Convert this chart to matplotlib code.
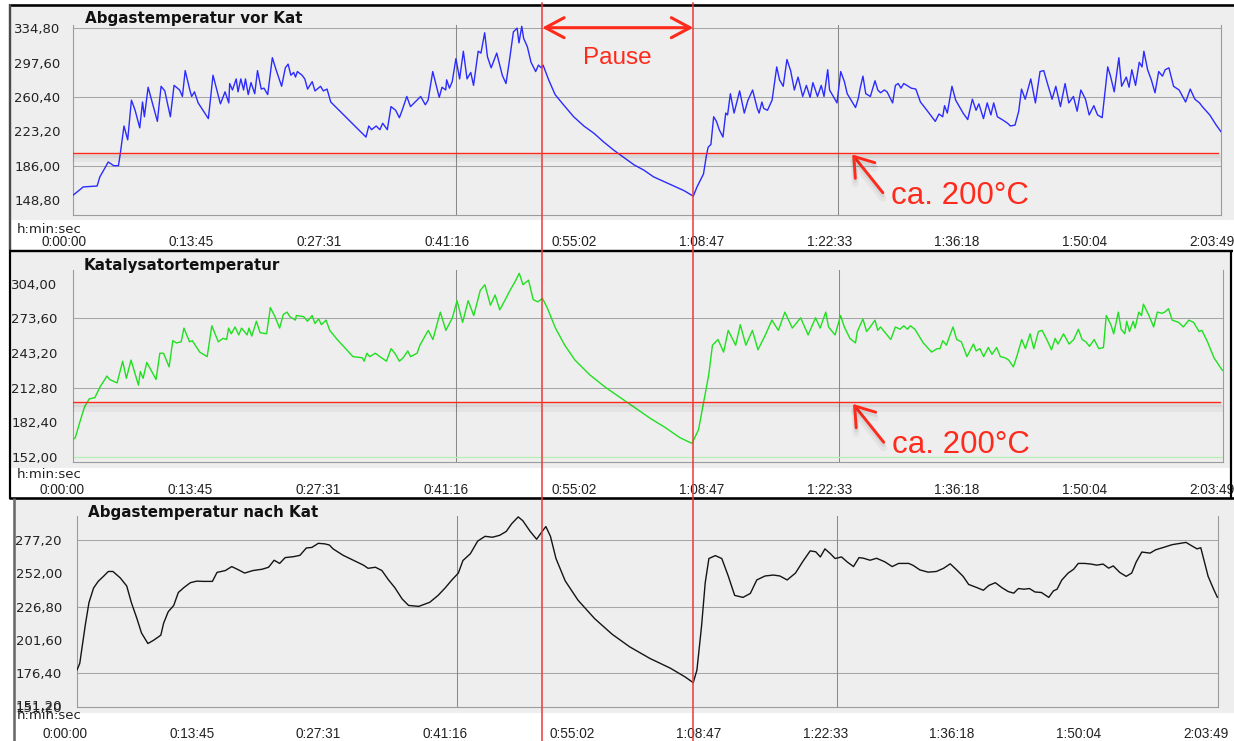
import matplotlib
matplotlib.use("Agg")
import matplotlib.pyplot as plt
import matplotlib.patheffects as pe
from matplotlib.patches import Rectangle, FancyArrowPatch
from matplotlib.lines import Line2D
from matplotlib.transforms import ScaledTranslation, blended_transform_factory

# ---------------------------------------------------------------- data
# time in minutes since start of the log, temperatures in °C

t_vor = [0.0, 0.5, 1.1, 2.6, 2.9, 3.3, 3.8, 4.4, 4.9, 5.1,
         5.5, 5.9, 6.3, 6.7, 7.2, 7.5, 7.7, 8.1, 9.1, 9.5,
         9.9, 10.5, 10.9, 11.5, 11.8, 12.1, 12.6, 12.8, 13.1, 13.5,
         14.6, 15.1, 15.9, 16.2, 16.4, 16.8, 16.9, 17.2, 17.6, 17.8,
         18.1, 18.4, 18.6, 18.9, 19.2, 19.6, 19.9, 20.3, 20.6, 21.0,
         21.5, 21.9, 22.5, 22.9, 23.2, 23.5, 23.8, 24.0, 24.2, 24.7,
         25.0, 25.3, 25.8, 26.1, 26.7, 27.0, 27.4, 27.8, 28.8, 29.9,
         31.0, 31.6, 31.9, 32.2, 32.7, 33.1, 33.4, 33.9, 34.3, 34.8,
         35.2, 35.5, 36.0, 36.4, 37.1, 37.5, 38.0, 38.3, 38.8, 39.5,
         39.8, 40.2, 40.3, 40.6, 40.9, 41.3, 41.7, 42.1, 42.5, 42.9,
         43.2, 43.7, 44.0, 44.4, 44.7, 45.1, 45.7, 46.3, 46.7, 47.1,
         47.5, 47.9, 48.1, 48.4, 48.6, 49.0, 49.4, 49.9, 50.2, 50.5,
         50.7, 51.3, 52.0, 52.9, 54.0, 55.1, 56.2, 57.2, 58.3, 59.4,
         60.5, 61.6, 62.6, 63.7, 64.8, 65.9, 66.9, 67.3, 68.0, 68.3,
         68.5, 68.8, 69.1, 69.4, 69.7, 70.1, 70.4, 70.6, 70.9, 71.3,
         71.9, 72.4, 72.8, 73.3, 73.8, 74.0, 74.3, 74.5, 74.9, 75.4,
         75.9, 76.2, 76.6, 77.0, 77.4, 77.8, 78.2, 78.7, 79.1, 79.5,
         79.8, 80.3, 80.7, 81.0, 81.4, 81.6, 82.4, 82.8, 83.2, 83.5,
         84.4, 84.7, 84.9, 85.2, 85.5, 86.0, 86.5, 86.8, 87.1, 87.5,
         87.8, 88.4, 88.7, 89.0, 89.3, 89.6, 90.1, 90.4, 90.9, 91.4,
         92.1, 93.0, 93.4, 93.8, 94.0, 94.3, 94.8, 95.2, 95.6, 96.0,
         96.5, 97.0, 97.4, 97.7, 98.2, 98.6, 99.0, 99.3, 99.7, 100.2,
         100.8, 101.1, 101.6, 102.0, 102.3, 102.7, 103.3, 103.8, 104.3, 104.7,
         105.1, 105.6, 106.0, 106.5, 107.0, 107.4, 107.9, 108.3, 108.7, 109.2,
         109.6, 110.1, 110.5, 111.0, 111.6, 111.9, 112.3, 112.8, 113.1, 113.6,
         113.9, 114.2, 114.6, 115.0, 115.3, 115.5, 115.9, 116.3, 116.7, 117.1,
         117.5, 117.8, 118.2, 118.7, 119.3, 120.0, 120.5, 121.0, 121.5, 121.8,
         122.6, 123.3, 123.8]
temp_vor = [154, 158, 163, 164, 174, 181, 190, 186, 186, 199,
            229, 214, 257, 246, 227, 255, 239, 271, 234, 272,
            267, 239, 273, 268, 261, 289, 268, 261, 266, 254,
            237, 284, 253, 261, 266, 254, 275, 268, 280, 266,
            280, 268, 280, 263, 276, 264, 289, 269, 270, 263,
            303, 290, 272, 292, 296, 284, 287, 282, 288, 284,
            280, 269, 277, 267, 272, 267, 269, 255, 245, 234,
            223, 217, 229, 225, 229, 225, 232, 225, 250, 246,
            238, 246, 261, 250, 257, 261, 252, 257, 288, 260,
            271, 268, 279, 270, 277, 302, 280, 310, 280, 287,
            273, 310, 308, 330, 304, 292, 308, 284, 275, 302,
            331, 335, 319, 337, 324, 315, 298, 288, 295, 292,
            295, 279, 263, 252, 239, 229, 221, 212, 203, 195,
            187, 181, 174, 169, 164, 159, 153, 163, 177, 196,
            206, 209, 239, 234, 225, 217, 243, 241, 264, 243,
            267, 243, 257, 268, 248, 243, 255, 248, 246, 257,
            293, 279, 272, 301, 289, 268, 282, 261, 273, 260,
            276, 261, 273, 261, 290, 268, 254, 288, 277, 264,
            249, 259, 270, 283, 264, 261, 278, 268, 265, 268,
            266, 254, 273, 275, 270, 275, 272, 270, 269, 255,
            246, 234, 242, 239, 251, 243, 272, 257, 250, 243,
            236, 258, 246, 253, 237, 254, 241, 254, 239, 236,
            232, 229, 230, 245, 269, 258, 280, 254, 288, 289,
            275, 258, 272, 250, 275, 254, 261, 245, 268, 258,
            241, 251, 241, 238, 293, 283, 266, 303, 272, 282,
            271, 290, 273, 298, 293, 310, 290, 279, 265, 288,
            283, 290, 292, 272, 268, 255, 269, 258, 254, 250,
            241, 230, 223]

t_kat = [0.0, 0.3, 0.8, 1.3, 1.8, 2.4, 3.0, 3.4, 3.7, 4.0,
         4.8, 5.4, 5.8, 6.3, 7.1, 7.3, 7.6, 8.0, 9.0, 9.4,
         9.8, 10.4, 10.8, 11.2, 11.7, 12.0, 12.6, 12.9, 13.7, 14.5,
         15.0, 15.7, 16.2, 16.6, 16.8, 17.1, 17.5, 17.9, 18.2, 18.8,
         19.0, 19.3, 19.8, 20.2, 20.9, 21.3, 21.8, 22.3, 22.7, 23.1,
         23.4, 24.0, 24.1, 24.9, 25.3, 25.8, 26.1, 26.5, 26.8, 27.3,
         27.7, 28.5, 29.4, 30.2, 31.2, 31.4, 31.7, 32.0, 32.6, 33.1,
         33.8, 34.3, 34.7, 35.2, 35.6, 36.1, 36.4, 37.1, 37.4, 38.3,
         38.8, 39.6, 40.2, 40.9, 41.4, 42.0, 42.6, 43.2, 43.9, 44.4,
         45.0, 45.5, 46.0, 46.6, 47.1, 47.6, 48.1, 48.5, 49.1, 49.6,
         50.1, 50.6, 51.1, 52.0, 53.0, 54.1, 55.7, 57.4, 59.0, 60.6,
         62.2, 63.8, 65.4, 66.7, 67.4, 67.9, 68.5, 68.9, 69.5, 70.1,
         70.6, 71.4, 71.9, 72.5, 73.2, 73.8, 74.6, 75.3, 76.0, 76.7,
         77.5, 78.4, 79.2, 80.0, 80.5, 81.1, 81.4, 82.1, 82.7, 83.1,
         83.7, 84.3, 84.5, 85.1, 85.5, 85.8, 86.4, 86.7, 87.0, 87.5,
         88.1, 88.6, 89.1, 89.5, 89.9, 90.2, 90.7, 91.6, 92.5, 93.1,
         93.4, 93.7, 94.1, 94.3, 94.8, 95.2, 95.7, 96.3, 97.0, 97.3,
         97.7, 98.1, 98.6, 99.0, 99.5, 99.9, 100.4, 100.8, 101.3, 101.7,
         102.2, 102.6, 103.1, 103.5, 104.0, 104.4, 104.9, 105.4, 105.8, 106.1,
         106.7, 107.3, 107.8, 108.3, 108.7, 109.1, 109.5, 110.0, 110.5, 111.0,
         111.3, 111.8, 112.1, 112.6, 112.9, 113.3, 113.5, 113.8, 114.2, 114.4,
         114.8, 115.1, 115.3, 115.9, 116.4, 116.8, 117.3, 117.6, 118.0, 118.4,
         119.1, 119.6, 120.2, 120.7, 121.3, 121.6, 122.2, 122.9, 123.8]
temp_kat = [167, 169, 183, 196, 203, 204, 214, 219, 223, 220,
            217, 236, 221, 237, 215, 227, 221, 235, 220, 243,
            243, 231, 254, 252, 253, 265, 253, 254, 244, 240,
            267, 253, 256, 255, 265, 260, 266, 259, 265, 259,
            265, 258, 271, 261, 260, 283, 275, 265, 277, 279,
            275, 272, 276, 275, 271, 276, 269, 273, 268, 272,
            263, 255, 247, 240, 239, 236, 243, 240, 243, 240,
            236, 247, 243, 236, 239, 245, 240, 243, 250, 263,
            255, 279, 263, 274, 289, 270, 289, 276, 298, 303,
            285, 294, 281, 290, 298, 305, 313, 303, 307, 290,
            288, 291, 283, 265, 250, 237, 224, 213, 204, 195,
            186, 178, 169, 164, 176, 198, 224, 250, 255, 244,
            263, 250, 268, 250, 263, 246, 259, 272, 263, 279,
            265, 274, 259, 274, 265, 279, 266, 259, 276, 266,
            256, 252, 262, 273, 262, 265, 272, 263, 266, 261,
            255, 266, 264, 267, 264, 267, 264, 252, 244, 247,
            247, 254, 250, 255, 266, 255, 253, 240, 251, 245,
            247, 240, 248, 242, 248, 240, 239, 237, 231, 241,
            255, 247, 260, 247, 262, 263, 255, 246, 256, 251,
            260, 251, 255, 264, 255, 253, 249, 255, 247, 248,
            276, 268, 260, 279, 264, 260, 271, 262, 271, 265,
            279, 276, 286, 276, 266, 279, 278, 279, 282, 272,
            270, 266, 272, 270, 262, 263, 253, 239, 228]
kat_floor = 152.0  # second, flat trace of the catalyst channel

t_nach = [0.0, 0.3, 0.9, 1.3, 1.8, 2.3, 2.9, 3.4, 3.9, 4.7,
          5.4, 5.9, 6.5, 7.0, 7.7, 8.3, 9.1, 9.4, 9.9, 10.5,
          11.0, 11.6, 12.3, 13.0, 13.7, 14.7, 15.2, 16.1, 16.8, 17.4,
          18.2, 19.1, 20.1, 20.8, 21.4, 22.0, 22.6, 23.5, 24.2, 24.9,
          25.5, 26.2, 26.9, 27.4, 27.8, 28.9, 30.0, 31.1, 31.6, 32.4,
          33.1, 33.8, 34.5, 35.3, 36.0, 37.1, 38.3, 39.2, 40.0, 40.7,
          41.4, 41.9, 42.7, 43.5, 44.3, 45.1, 45.9, 46.6, 47.2, 47.9,
          48.4, 49.2, 49.9, 50.5, 50.9, 51.4, 52.0, 53.0, 54.4, 56.2,
          58.1, 60.0, 62.2, 64.4, 66.0, 66.9, 67.3, 67.8, 68.2, 68.6,
          69.3, 70.0, 70.7, 71.4, 72.3, 73.1, 73.8, 74.7, 75.6, 76.3,
          77.1, 78.0, 78.8, 79.6, 80.2, 80.7, 81.2, 81.8, 82.3, 83.0,
          83.6, 84.3, 84.9, 85.4, 86.1, 86.8, 87.7, 88.5, 89.2, 90.3,
          90.8, 91.5, 92.4, 93.3, 94.1, 94.8, 95.5, 96.2, 96.8, 97.7,
          98.4, 99.0, 99.7, 100.4, 101.1, 101.7, 102.2, 102.8, 103.4, 104.0,
          104.7, 105.5, 106.0, 106.4, 106.9, 107.6, 108.2, 108.7, 109.4, 110.1,
          110.7, 111.4, 112.0, 112.5, 113.2, 113.9, 114.5, 115.0, 115.6, 116.5,
          117.1, 118.0, 118.9, 119.8, 120.4, 121.0, 121.6, 122.0, 122.3, 122.8,
          123.4, 123.8]
temp_nach = [179, 184, 213, 230, 241, 246, 250, 253.5, 253.5, 248.6,
             242.5, 230, 218, 207, 199, 201.4, 205.3, 214.3, 223, 227.8,
             237.6, 241.3, 245, 246.2, 246, 246, 252.8, 254.2, 257.2, 255.2,
             252.3, 254.2, 255.2, 256.7, 262, 259.6, 264, 264.7, 265.7, 271.3,
             271.7, 274.8, 274.4, 273.5, 270.6, 265.7, 262, 258.3, 255.9, 256.7,
             254.2, 247.3, 241.3, 232.7, 227.8, 227.1, 230.2, 235.4, 241.3, 247.1,
             252.3, 261.8, 266.9, 276.5, 280.1, 279.4, 280.9, 283.8, 289.7, 294.8,
             291.9, 283.8, 277.9, 283.8, 287.5, 280.1, 263.3, 246.4, 231.7, 217.8,
             206, 196.5, 187.7, 180.4, 173.8, 169.4, 178.9, 211.9, 244.9, 263.3,
             265.5, 263.3, 250.1, 235.4, 233.9, 236.9, 247.1, 250.1, 250.8, 250.1,
             247.1, 252.3, 261.1, 269.1, 268.4, 264.5, 270.6, 266.9, 263.3, 264.5,
             260.8, 257.2, 264, 263.5, 262, 263.5, 260.8, 257.2, 259.6, 259.6,
             258, 254.7, 253, 253.5, 256, 259.3, 254.7, 249.8, 243.7, 241.3,
             239.3, 243, 245, 241.3, 238.3, 237.1, 240.6, 240.1, 240.6, 238,
             237.6, 233.9, 238.8, 240.1, 246.9, 252.3, 255.2, 259.6, 259.6, 259.1,
             258.3, 259.1, 256, 257.7, 252.8, 249.8, 252.3, 260.8, 268.2, 267.4,
             269.9, 271.8, 273.8, 274.8, 275.5, 273, 270.6, 271.5, 263.3, 249.8,
             240, 234]

time_labels = ["0:00:00", "0:13:45", "0:27:31", "0:41:16", "0:55:02",
               "1:08:47", "1:22:33", "1:36:18", "1:50:04", "2:03:49"]
yticks_vor = [148.8, 186.0, 223.2, 260.4, 297.6, 334.8]
yticks_kat = [152.0, 182.4, 212.8, 243.2, 273.6, 304.0]
yticks_nach = [151.2, 176.4, 201.6, 226.8, 252.0, 277.2]

titles = ["Abgastemperatur vor Kat", "Katalysatortemperatur",
          "Abgastemperatur nach Kat"]

threshold = 200.0          # "ca. 200°C"
pause_start, pause_end = 50.6, 66.9
arrow_t = 83.9             # where the threshold arrows point

# ---------------------------------------------------------------- layout
W, H, DPI = 1234, 741, 100
RED = "#fe2a1c"
PANEL = "#eeeeee"


def hms_to_min(s):
    h, m, sec = (int(p) for p in s.split(":"))
    return h * 60 + m + sec / 60.0


tick_pos = [hms_to_min(s) for s in time_labels]
x_end = tick_pos[-1]


def fmt_de(v):
    return f"{v:.2f}".replace(".", ",")


fig = plt.figure(figsize=(W / DPI, H / DPI), dpi=DPI, facecolor="white")


def px_rect(x0, y0, x1, y1):
    return [x0 / W, 1 - y1 / H, (x1 - x0) / W, (y1 - y0) / H]


def box(x0, y0, x1, y1, color, z=-5):
    fig.add_artist(Rectangle((x0 / W, 1 - y1 / H), (x1 - x0) / W, (y1 - y0) / H,
                             transform=fig.transFigure, facecolor=color,
                             edgecolor="none", zorder=z))


def seg(x0, y0, x1, y1, color, lw_px, z=5):
    fig.add_artist(Line2D([x0 / W, x1 / W], [1 - y0 / H, 1 - y1 / H],
                          transform=fig.transFigure, color=color,
                          lw=lw_px * 0.72, zorder=z, solid_capstyle="butt"))


def px_text(x, y, s, **kw):
    return fig.text(x / W, 1 - y / H, s, **kw)


# panel backgrounds and frames
box(11, 6.5, 1234, 220, PANEL)
box(11, 251.5, 1230.5, 468, PANEL)
box(15, 499, 1234, 741, PANEL)
# time strip of the last chart; drawn above its lowest, cut-off tick label
box(15, 713, 1234, 741, "white", z=-2)

seg(9, 5.3, 1234, 5.3, "black", 2.6)
seg(9.8, 4, 9.8, 250, "#4a4a4a", 2.4)
seg(9, 250.5, 1232.5, 250.5, "black", 2.4)
seg(10, 250, 10, 499, "black", 2.2)
seg(1231.3, 250, 1231.3, 499, "black", 2.2)
seg(9, 498.2, 1234, 498.2, "black", 2.6)
seg(13.8, 498, 13.8, 741, "#6a6a6a", 2.6)

shadow = [pe.SimpleLineShadow(offset=(0, -2), shadow_color="black", alpha=0.06, linewidth=3),
          pe.SimpleLineShadow(offset=(0, -4), shadow_color="black", alpha=0.04, linewidth=5),
          pe.Normal()]

panels = [
    dict(box=(73, 25, 1221, 215), ylim=(132.6, 338.4), yticks=yticks_vor,
         grid=[186.0, 260.4, 334.8], t=t_vor, v=temp_vor, color="#2b2bff",
         ypad=12.5, xshift=-9, title_xy=(85, 23.5), unit_y=232.7),
    dict(box=(72.5, 270, 1222.5, 462), ylim=(147.7, 315.9), yticks=yticks_kat,
         grid=[212.8, 273.6], t=t_kat, v=temp_kat, color="#1fe01f",
         ypad=15, xshift=-10, title_xy=(84, 270), unit_y=477.7),
    dict(box=(77, 515.7, 1217.5, 706.7), ylim=(155.6, 295.7), yticks=yticks_nach,
         grid=[176.4, 226.8, 277.2], t=t_nach, v=temp_nach, color="#141414",
         ypad=15, xshift=-12, title_xy=(88, 516.5), unit_y=719.3),
]

axes = []
for i, p in enumerate(panels):
    ax = fig.add_axes(px_rect(*p["box"]))
    ax.set_facecolor("none")
    ax.set_xlim(0, x_end)
    ax.set_ylim(*p["ylim"])
    ax.spines["top"].set_visible(False)
    for s in ("left", "bottom", "right"):
        ax.spines[s].set_color("#9c9c9c")
        ax.spines[s].set_linewidth(0.8)

    for g in p["grid"]:
        ax.axhline(g, color="#a6a6a6", lw=0.75, zorder=1)
    for k in (3, 6):
        ax.axvline(tick_pos[k], color="#8a8a8a", lw=0.75, zorder=1)

    ax.plot(p["t"], p["v"], color=p["color"], lw=1.0, zorder=3,
            solid_joinstyle="round")

    ax.set_yticks(p["yticks"])
    ax.set_yticklabels([fmt_de(v) for v in p["yticks"]])
    ax.tick_params(axis="y", length=0, pad=p["ypad"] * 0.72, labelsize=9.5,
                   labelcolor="#222222")
    ax.set_xticks(tick_pos)
    ax.set_xticklabels(time_labels, fontfamily="Liberation Sans")
    ax.tick_params(axis="x", length=0, pad=31.5 * 0.72, labelsize=9.8,
                   labelcolor="#222222")
    shift = ScaledTranslation(p["xshift"] / DPI, 0, fig.dpi_scale_trans)
    for lbl in ax.get_xticklabels():
        lbl.set_va("baseline")
        lbl.set_transform(lbl.get_transform() + shift)

    px_text(p["title_xy"][0], p["title_xy"][1], titles[i], fontsize=10.9,
            fontweight="bold", color="#111111", va="baseline", ha="left")
    px_text(16.5, p["unit_y"], "h:min:sec", fontsize=9.5, color="#222222",
            va="baseline", ha="left", zorder=6)
    axes.append(ax)

ax1, ax2, ax3 = axes

# flat second trace of the catalyst chart
ax2.axhline(kat_floor, color="#b4eeb4", lw=0.9, zorder=2)

# lowest tick label of the last chart lies below its plot area and is
# partly hidden by the time strip drawn above it
low_tr = (blended_transform_factory(ax3.transAxes, ax3.transData)
          + ScaledTranslation(-15 / DPI, 0, fig.dpi_scale_trans))
fig.text(0, yticks_nach[0], fmt_de(yticks_nach[0]), transform=low_tr,
         fontsize=9.5, color="#222222", ha="right", va="center", zorder=-3)

# ---------------------------------------------------------------- annotations
for ax in (ax1, ax2):
    ax.plot([0, x_end - 0.3], [threshold, threshold], color=RED, lw=1.0,
            zorder=4, path_effects=shadow)
    ax.annotate("", xy=(arrow_t, threshold), xycoords="data",
                xytext=(32, -40), textcoords="offset pixels",
                arrowprops=dict(arrowstyle="->,head_length=1.3,head_width=0.9",
                                mutation_scale=10, lw=2.1, color=RED,
                                shrinkA=0, shrinkB=1.5, path_effects=shadow),
                zorder=6)
    ax.annotate("ca. 200°C", xy=(arrow_t, threshold), xycoords="data",
                xytext=(40, -43), textcoords="offset pixels",
                ha="left", va="center", fontsize=22.5,
                fontfamily="Liberation Sans", color=RED, zorder=6)

trans_pause = blended_transform_factory(ax1.transData, fig.transFigure)
for t in (pause_start, pause_end):
    fig.add_artist(Line2D([t, t], [0, 1 - 3 / H], transform=trans_pause,
                          color="#f03838", lw=1.1, zorder=20))

fig.add_artist(FancyArrowPatch((pause_start, 1 - 27.7 / H), (pause_end, 1 - 27.7 / H),
                               transform=trans_pause,
                               arrowstyle="<->,head_length=1.35,head_width=0.72",
                               mutation_scale=10, lw=2.2, color=RED,
                               shrinkA=0, shrinkB=0, zorder=21))
fig.text((pause_start + pause_end) / 2, 1 - 64 / H, "Pause", transform=trans_pause,
         ha="center", va="baseline", fontsize=17.5, fontfamily="Liberation Sans",
         color=RED, zorder=21)

fig.savefig("out.png", dpi=DPI, facecolor="white")
